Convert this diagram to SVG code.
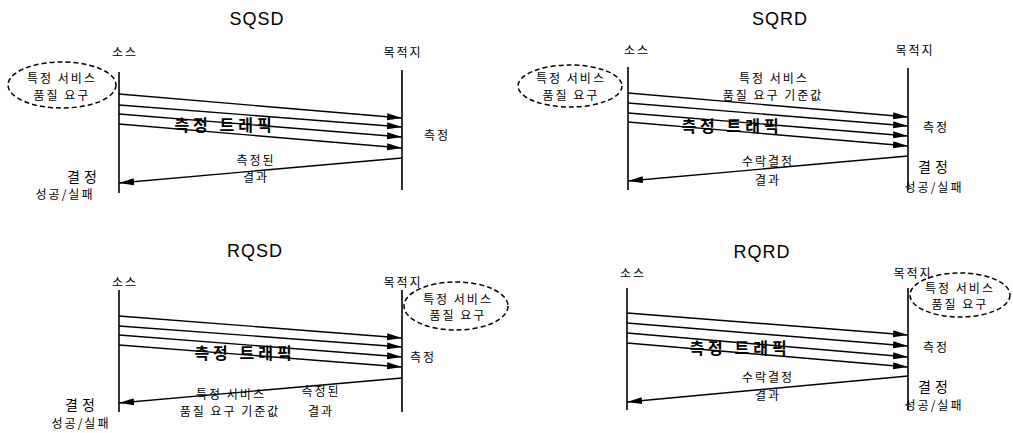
<svg xmlns="http://www.w3.org/2000/svg" width="1013" height="433" viewBox="0 0 1013 433">
<defs>
<marker id="ah" markerUnits="userSpaceOnUse" markerWidth="16" markerHeight="8" refX="15" refY="3.5" orient="auto">
<path d="M0,0 L15,3.5 L0,7 z" fill="#000"/>
</marker>
<style>
.t{font-family:"Liberation Sans",Arial,sans-serif;font-size:18px;letter-spacing:1px;text-anchor:middle;fill:#000}
.k{font-family:"Noto Sans CJK KR",sans-serif;font-size:12px;letter-spacing:2px;text-anchor:middle;fill:#000}
.kb{font-size:16px;font-weight:bold;letter-spacing:4px}
.kd{font-size:14px;letter-spacing:4px}
.life{stroke:#000;stroke-width:1.6}
.arr{stroke:#000;stroke-width:1.4;fill:none;marker-end:url(#ah)}
.qos{fill:none;stroke:#000;stroke-width:1.5;stroke-dasharray:5 3}
</style>
</defs>
<rect width="1013" height="433" fill="#fff"/>

<!-- Panel SQSD -->
<g id="sqsd">
<text class="t" x="257" y="25">SQSD</text>
<g id="sqsd-src"><line class="life" x1="119" y1="72" x2="119" y2="193"/><text class="k" x="125" y="57">소스</text></g>
<g id="sqsd-dst"><line class="life" x1="402" y1="70" x2="402" y2="190"/><text class="k" x="403" y="57">목적지</text></g>
<g id="sqsd-qos"><ellipse class="qos" cx="62" cy="85" rx="54" ry="23"/><text class="k" x="62" y="83">특정 서비스</text><text class="k" x="62" y="100">품질 요구</text></g>
<g id="sqsd-labels">
<text class="k kb" x="225" y="131">측정 트래픽</text>
<text class="k" x="437" y="140">측정</text>
<text class="k" x="256" y="165">측정된</text>
<text class="k" x="256" y="182">결과</text>
<text class="k kd" x="84" y="182">결정</text>
<text class="k" x="65" y="199">성공/실패</text>
</g>
</g>

<!-- Panel SQRD -->
<g id="sqrd">
<text class="t" x="780" y="25">SQRD</text>
<g id="sqrd-src"><line class="life" x1="628" y1="67" x2="628" y2="190"/><text class="k" x="637" y="55">소스</text></g>
<g id="sqrd-dst"><line class="life" x1="908" y1="68" x2="908" y2="190"/><text class="k" x="915" y="55">목적지</text></g>
<g id="sqrd-qos"><ellipse class="qos" cx="570" cy="86" rx="52" ry="21"/><text class="k" x="571" y="83">특정 서비스</text><text class="k" x="571" y="100">품질 요구</text></g>
<g id="sqrd-labels">
<text class="k" x="774" y="83">특정 서비스</text>
<text class="k" x="773" y="100">품질 요구 기준값</text>
<text class="k kb" x="732" y="132">측정 트래픽</text>
<text class="k" x="936" y="132">측정</text>
<text class="k" x="768" y="166">수락결정</text>
<text class="k" x="768" y="185">결과</text>
<text class="k kd" x="935" y="172">결정</text>
<text class="k" x="934" y="192">성공/실패</text>
</g>
</g>

<!-- Panel RQSD -->
<g id="rqsd">
<text class="t" x="255" y="257">RQSD</text>
<g id="rqsd-src"><line class="life" x1="119" y1="290" x2="119" y2="412"/><text class="k" x="125" y="287">소스</text></g>
<g id="rqsd-dst"><line class="life" x1="402" y1="290" x2="402" y2="412"/><text class="k" x="403" y="287">목적지</text></g>
<g id="rqsd-qos"><ellipse class="qos" cx="456" cy="306" rx="52" ry="24"/><text class="k" x="458" y="304">특정 서비스</text><text class="k" x="458" y="320">품질 요구</text></g>
<g id="rqsd-labels">
<text class="k kb" x="245" y="359">측정 트래픽</text>
<text class="k" x="423" y="362">측정</text>
<text class="k" x="231" y="399">특정 서비스</text>
<text class="k" x="230" y="416">품질 요구 기준값</text>
<text class="k" x="321" y="396">측정된</text>
<text class="k" x="321" y="416">결과</text>
<text class="k kd" x="82" y="410">결정</text>
<text class="k" x="81" y="428">성공/실패</text>
</g>
</g>

<!-- Panel RQRD -->
<g id="rqrd">
<text class="t" x="762" y="258">RQRD</text>
<g id="rqrd-src"><line class="life" x1="627" y1="288" x2="627" y2="410"/><text class="k" x="633" y="278">소스</text></g>
<g id="rqrd-dst"><line class="life" x1="908" y1="288" x2="908" y2="410"/><text class="k" x="913" y="278">목적지</text></g>
<g id="rqrd-qos"><ellipse class="qos" cx="960" cy="295" rx="50" ry="22"/><text class="k" x="960" y="293">특정 서비스</text><text class="k" x="960" y="309">품질 요구</text></g>
<g id="rqrd-labels">
<text class="k kb" x="740" y="354">측정 트래픽</text>
<text class="k" x="936" y="352">측정</text>
<text class="k" x="768" y="382">수락결정</text>
<text class="k" x="768" y="400">결과</text>
<text class="k kd" x="935" y="392">결정</text>
<text class="k" x="934" y="410">성공/실패</text>
</g>
</g>

<!-- Connectors -->
<g id="connectors">
<line class="arr" x1="119" y1="94" x2="402" y2="118"/>
<line class="arr" x1="119" y1="105" x2="402" y2="127"/>
<line class="arr" x1="119" y1="114" x2="402" y2="137"/>
<line class="arr" x1="119" y1="124" x2="402" y2="148"/>
<line class="arr" x1="402" y1="158" x2="119" y2="183"/>

<line class="arr" x1="628" y1="93" x2="908" y2="117"/>
<line class="arr" x1="628" y1="103" x2="908" y2="126"/>
<line class="arr" x1="628" y1="113" x2="908" y2="136"/>
<line class="arr" x1="628" y1="122" x2="908" y2="146"/>
<line class="arr" x1="908" y1="156" x2="628" y2="181"/>

<line class="arr" x1="119" y1="316" x2="402" y2="338"/>
<line class="arr" x1="119" y1="326" x2="402" y2="347"/>
<line class="arr" x1="119" y1="335" x2="402" y2="357"/>
<line class="arr" x1="119" y1="345" x2="402" y2="367"/>
<line class="arr" x1="402" y1="378" x2="119" y2="403"/>

<line class="arr" x1="627" y1="313" x2="908" y2="335"/>
<line class="arr" x1="627" y1="323" x2="908" y2="346"/>
<line class="arr" x1="627" y1="333" x2="908" y2="357"/>
<line class="arr" x1="627" y1="343" x2="908" y2="367"/>
<line class="arr" x1="908" y1="376" x2="627" y2="402"/>
</g>
</svg>
